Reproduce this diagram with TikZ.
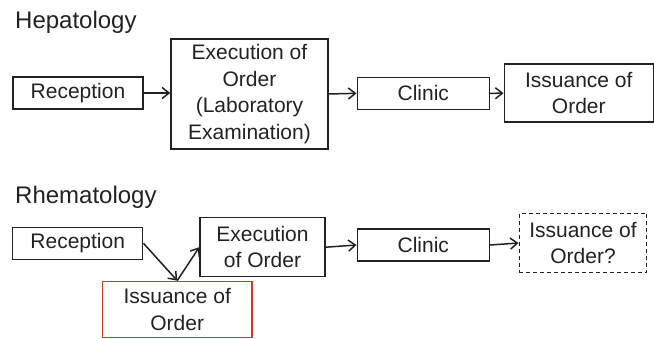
\documentclass[tikz,border=0pt]{standalone}
\usepackage{fontspec}
\setmainfont{Liberation Sans}
\usetikzlibrary{arrows.meta}
\definecolor{ink}{HTML}{222222}
\definecolor{alert}{HTML}{E0302A}
\tikzset{
  stage/.style={draw=ink, line width=1.5pt, text=ink, inner sep=0pt, align=center,
    font=\fontsize{21}{26.5}\selectfont},
  heading/.style={anchor=base west, inner sep=0pt, text=ink, font=\fontsize{24}{28}\selectfont},
  flow/.style={draw=ink, line width=1.5pt, -{Straight Barb[length=7pt,width=11pt,line width=1.5pt]}},
  pending/.style={stage, dash pattern=on 4pt off 3pt},
  inserted/.style={stage, draw=alert, line width=1.3pt}
}
\begin{document}
\begin{tikzpicture}[x=1pt,y=-1pt]
\useasboundingbox (0,0) rectangle (654,339);

% Hepatology workflow
\node[heading] (htitle) at (15,28.3) {Hepatology};
\node[stage, minimum width=130pt, minimum height=32pt] (hrec) at (78,93) {Reception};
\node[stage, minimum width=157pt, minimum height=110pt] (hexe) at (249.5,94) {Execution of\\Order\\(Laboratory\\Examination)};
\node[stage, minimum width=132pt, minimum height=32pt] (hcli) at (423.3,93.3) {Clinic};
\node[stage, minimum width=149pt, minimum height=58pt] (hiss) at (578.8,93.2) {Issuance of\\Order};

\draw[flow] (hrec.east) -- (hrec.east -| hexe.west);
\draw[flow] (hexe.east) -- (hcli.west);
\draw[flow] (hcli.east) -- (hiss.west);

% Rhematology workflow
\node[heading] (rtitle) at (15,204) {Rhematology};
\node[stage, minimum width=130pt, minimum height=32pt] (rrec) at (77.7,243.3) {Reception};
\node[stage, minimum width=125pt, minimum height=59pt] (rexe) at (262.5,247.2) {Execution\\of Order};
\node[inserted, minimum width=149.5pt, minimum height=56.5pt] (riss) at (177.2,309.5) {Issuance of\\Order};
\node[stage, minimum width=132pt, minimum height=32pt] (rcli) at (423.3,245) {Clinic};
\node[pending, minimum width=127.4pt, minimum height=59.4pt] (rq) at (583,243) {Issuance of\\Order?};

\draw[flow] (rrec.east) -- (riss.north);
\draw[flow] (riss.north) -- (rexe.west);
\draw[flow] (rexe.east) -- (rcli.west);
\draw[flow] (rcli.east) -- (rq.west);
\end{tikzpicture}
\end{document}
